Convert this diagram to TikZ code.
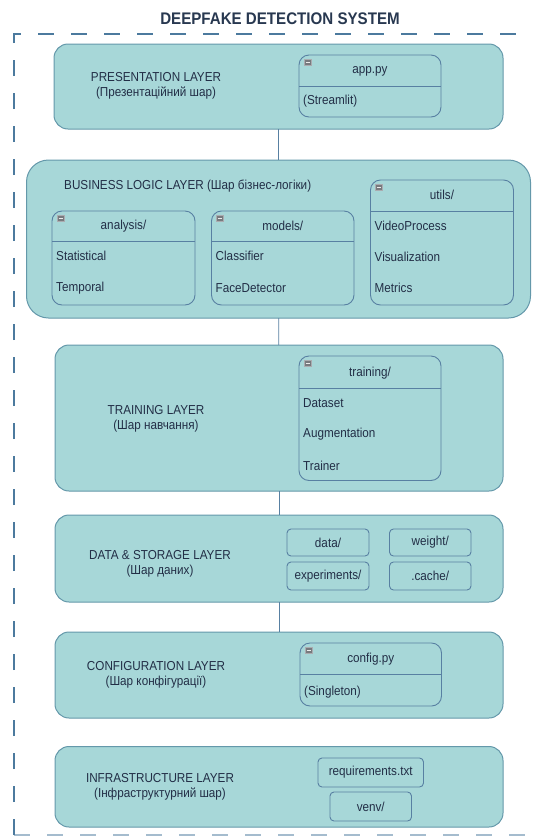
\documentclass[tikz,border=0pt]{standalone}
\usepackage{fontspec}
\setmainfont{Liberation Sans}[FakeStretch=0.9]
\definecolor{layerfill}{RGB}{167,215,216}
\definecolor{layerline}{RGB}{100,152,170}
\definecolor{compline}{RGB}{88,128,162}
\definecolor{ink}{RGB}{34,46,70}
\definecolor{titleink}{RGB}{40,56,80}
\definecolor{framecol}{RGB}{76,122,158}
\definecolor{iconfill}{RGB}{120,122,126}
\definecolor{iconedge}{RGB}{170,172,176}

% box placed by its top-left and bottom-right corners (y grows downwards)
\newcommand\rectnode[7]{%
  \node[#1, anchor=north west,
        minimum width={(#5-#3)*1pt}, minimum height={(#6-#4)*1pt}] (#2) at (#3,#4) {#7};}
% horizontal divider across a compartment box
\newcommand\divider[2]{\draw[compline, line width=0.9pt] (#1.west |- 0,#2) -- (#1.east |- 0,#2);}
% collapse icon in the top-left corner of a compartment box
\newcommand\collapseicon[1]{%
  \draw[fill=iconfill, draw=iconedge, line width=0.5pt] ([shift={(5,4.5)}]#1.north west) rectangle ++(7,5.5);
  \draw[white!85!gray, line width=0.8pt] ([shift={(6.5,7.25)}]#1.north west) -- ++(4,0);}

\tikzset{
  txt/.style={text=ink, font=\fontsize{13}{15}\selectfont, inner sep=0pt},
  layer/.style={draw=layerline, fill=layerfill, line width=1pt, rounded corners=14pt, inner sep=0pt, outer sep=0pt},
  bigarea/.style={layer, rounded corners=22pt},
  comp/.style={draw=compline, line width=0.9pt, rounded corners=10pt, inner sep=0pt, outer sep=0pt},
  tag/.style={draw=compline, line width=0.9pt, rounded corners=4pt, txt, outer sep=0pt},
  lbl/.style={txt, align=center},
  head/.style={txt},
  item/.style={txt, anchor=west},
  conn/.style={draw=compline, line width=0.9pt},
  frame/.style={draw=framecol, line width=2pt, dash pattern=on 16pt off 17pt},
}

\begin{document}
\begin{tikzpicture}[x=1pt, y=-1pt]
\useasboundingbox (0,0) rectangle (533,836);
\clip (0,0) rectangle (533,836);

% title and dashed system frame
\node[text=titleink, font=\fontsize{16.8}{18}\selectfont\bfseries, inner sep=0pt] (title) at (280,19) {DEEPFAKE DETECTION SYSTEM};
\draw[frame] (14,835) -- (14,34) -- (560,34);
\draw[frame, draw opacity=0.5] (14,835) -- (560,835);

% ---------- presentation layer
\rectnode{layer}{pres}{54}{44}{503}{129}{}
\node[lbl] (preslbl) at (156,86) {PRESENTATION LAYER\\(Презентаційний шар)};
\rectnode{comp}{app}{299}{55}{441}{117}{}
\divider{app}{86}
\node[head] (apphead) at (app.center |- 0,71) {app.py};
\node[item] (appi1) at (303,101) {(Streamlit)};

% ---------- business logic layer
\rectnode{bigarea}{biz}{26.5}{160}{530.5}{318}{}
\node[txt, anchor=west] (bizlbl) at (64,186) {BUSINESS LOGIC LAYER (Шар бізнес-логіки)};

\rectnode{comp}{ana}{52}{211}{195}{305}{}
\divider{ana}{241}
\node[head] (anahead) at (ana.center |- 0,226) {analysis/};
\node[item] (anai1) at (56,256) {Statistical};
\node[item] (anai2) at (56,288) {Temporal};

\rectnode{comp}{mod}{211.5}{211}{354}{305}{}
\divider{mod}{241}
\node[head] (modhead) at (mod.center |- 0,226) {models/};
\node[item] (modi1) at (215.5,256) {Classifier};
\node[item] (modi2) at (215.5,288) {FaceDetector};

\rectnode{comp}{utl}{370.5}{180}{513.5}{305}{}
\divider{utl}{211}
\node[head] (utlhead) at (utl.center |- 0,195) {utils/};
\node[item] (utli1) at (374.5,225.5) {VideoProcess};
\node[item] (utli2) at (374.5,257) {Visualization};
\node[item] (utli3) at (374.5,288) {Metrics};

% ---------- training layer
\rectnode{layer}{train}{55}{345}{503}{491}{}
\node[lbl] (trainlbl) at (156,419) {TRAINING LAYER\\(Шар навчання)};
\rectnode{comp}{trn}{299}{356}{441}{480.5}{}
\divider{trn}{388}
\node[head] (trnhead) at (trn.center |- 0,373) {training/};
\node[item] (trni1) at (303,403) {Dataset};
\node[item] (trni2) at (303,434.5) {Augmentation};
\node[item] (trni3) at (303,466) {Trainer};

% ---------- data & storage layer
\rectnode{layer}{data}{55}{515}{503}{602}{}
\node[lbl] (datalbl) at (160,564) {DATA \& STORAGE LAYER\\(Шар даних)};
\rectnode{tag}{dat}{287}{529}{369}{556}{data/}
\rectnode{tag}{wgt}{389.5}{529}{471}{556}{weight/}
\rectnode{tag}{exp}{287}{562}{369}{590}{experiments/}
\rectnode{tag}{cch}{389.5}{562}{471}{590}{.cache/}

% ---------- configuration layer
\rectnode{layer}{conf}{55}{632}{503}{718}{}
\node[lbl] (conflbl) at (156,675) {CONFIGURATION LAYER\\(Шар конфігурації)};
\rectnode{comp}{cfg}{300}{643}{441.5}{706}{}
\divider{cfg}{674}
\node[head] (cfghead) at (cfg.center |- 0,659) {config.py};
\node[item] (cfgi1) at (304,692) {(Singleton)};

% ---------- infrastructure layer
\rectnode{layer}{infra}{55}{746.5}{503}{827}{}
\node[lbl] (infralbl) at (160,787) {INFRASTRUCTURE LAYER\\(Інфраструктурний шар)};
\rectnode{tag}{req}{318}{758}{423.5}{787}{requirements.txt}
\rectnode{tag}{venv}{330}{792}{411.5}{821}{venv/}

% collapse icons
\collapseicon{app}
\collapseicon{ana}
\collapseicon{mod}
\collapseicon{utl}
\collapseicon{trn}
\collapseicon{cfg}

% vertical links between layers
\draw[conn] (pres) -- (biz);
\draw[conn] (biz) -- (train);
\draw[conn] (train) -- (data);
\draw[conn] (data) -- (conf);
\end{tikzpicture}
\end{document}
